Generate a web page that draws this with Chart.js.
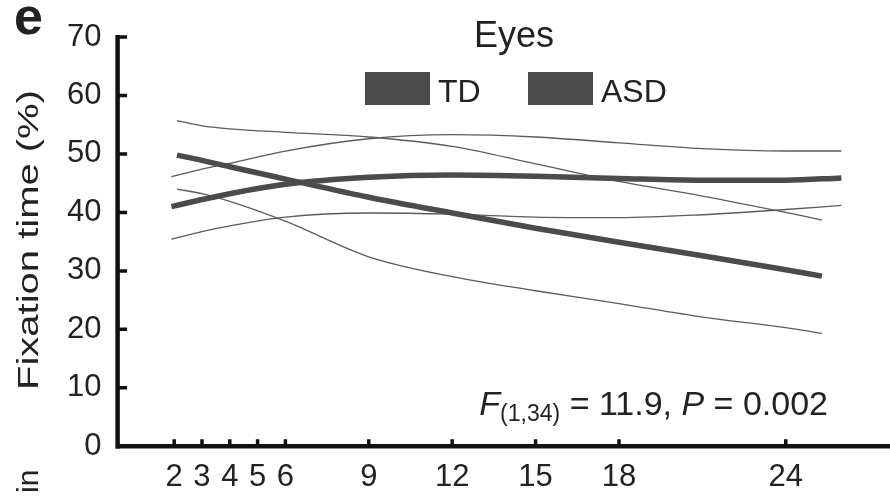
<!DOCTYPE html>
<html>
<head>
<meta charset="utf-8">
<script src="https://cdn.jsdelivr.net/npm/chart.js@4/dist/chart.umd.min.js"></script>
<style>
  html, body { margin: 0; padding: 0; background: #fff; }
  #wrap { width: 890px; height: 496px; }
</style>
</head>
<body>
<div id="wrap"><canvas id="eyesChart" width="890" height="496"></canvas></div>
<script>
// fixation on eyes by age (months), growth curves with 95% bands
const tdMonths  = [1.9, 3, 4, 6, 9, 12, 15, 18, 21, 24, 26];
const tdMean    = [41.0, 42.2, 43.2, 44.8, 46.0, 46.4, 46.2, 45.8, 45.5, 45.5, 45.9];
const tdUpper   = [46.1, 47.4, 48.4, 50.5, 52.6, 53.3, 52.9, 51.9, 50.9, 50.5, 50.5];
const tdLower   = [35.4, 36.7, 37.7, 39.2, 39.9, 39.7, 39.2, 39.1, 39.6, 40.5, 41.2];

const asdMonths = [2.1, 3, 4, 6, 9, 12, 15, 18, 21, 24, 25.3];
const asdMean   = [49.8, 48.9, 47.8, 45.7, 42.6, 39.9, 37.3, 34.9, 32.6, 30.2, 29.1];
const asdUpper  = [55.7, 54.8, 54.3, 53.7, 52.9, 51.3, 48.3, 45.3, 42.8, 40.0, 38.7];
const asdLower  = [44.0, 43.2, 41.9, 38.5, 32.4, 29.0, 26.6, 24.4, 22.1, 20.3, 19.3];

const monthTicks   = [2, 3, 4, 5, 6, 9, 12, 15, 18, 24];
const percentTicks = [0, 10, 20, 30, 40, 50, 60, 70];

const FONT = "'Liberation Sans', Arial, Helvetica, sans-serif";
const INK = '#222';
const LINE = '#4b4b4b';
const THIN = '#5c5c5c';

function pts(xs, ys) {
    return xs.map((x, i) => ({ x: x, y: ys[i] }));
}

function curve(label, xs, ys, thick) {
    return {
        label: label,
        data: pts(xs, ys),
        borderColor: thick ? LINE : THIN,
        backgroundColor: LINE,
        borderWidth: thick ? 5.5 : 1.3,
        pointRadius: 0,
        cubicInterpolationMode: 'monotone',
        fill: false,
        isMean: thick
    };
}

// axes with inward ticks, drawn from the scales
const axesPlugin = {
    id: 'axes',
    afterDatasetsDraw(chart) {
        const c = chart.ctx;
        const xs = chart.scales.x, ys = chart.scales.y;
        const x0 = xs.getPixelForValue(0);
        const y0 = ys.getPixelForValue(0);
        c.save();
        c.strokeStyle = '#111';
        c.lineCap = 'butt';
        c.lineWidth = 4.5;
        c.beginPath();
        c.moveTo(x0 - 1, ys.getPixelForValue(70) - 2);
        c.lineTo(x0 - 1, y0 + 2.5);
        c.moveTo(x0 - 3, y0);
        c.lineTo(chart.width, y0);
        c.stroke();
        c.lineWidth = 3.5;
        c.beginPath();
        percentTicks.forEach(v => {
            const p = ys.getPixelForValue(v);
            if (v === 0) return;
            c.moveTo(x0, p);
            c.lineTo(x0 + 8.5, p);
        });
        monthTicks.forEach(v => {
            const p = xs.getPixelForValue(v);
            c.moveTo(p, y0);
            c.lineTo(p, y0 - 7);
        });
        c.stroke();
        c.restore();
    }
};

// title, legend boxes, axis title and the statistic
const textPlugin = {
    id: 'texts',
    afterDraw(chart) {
        const c = chart.ctx;
        c.save();
        c.fillStyle = INK;
        c.textBaseline = 'alphabetic';

        c.font = 'bold 52px ' + FONT;
        c.fillText('e', 14, 34);

        c.font = '36px ' + FONT;
        c.textAlign = 'center';
        c.fillText('Eyes', 514, 47);

        // legend from the mean curves
        c.textAlign = 'left';
        c.font = '32px ' + FONT;
        const slots = [365, 528];
        chart.data.datasets.filter(d => d.isMean).forEach((d, i) => {
            const bx = slots[i];
            c.fillStyle = d.backgroundColor;
            c.fillRect(bx, 72, 65, 33);
            c.fillStyle = INK;
            c.fillText(d.label, bx + 73, 102);
        });

        // y axis title
        c.save();
        c.translate(38, 240);
        c.rotate(-Math.PI / 2);
        c.textAlign = 'center';
        c.font = '30px ' + FONT;
        const yt = 'Fixation time (%)';
        const w = c.measureText(yt).width;
        c.scale(300 / w, 1);
        c.fillText(yt, 0, 0);
        c.restore();

        // clipped label from the panel below
        c.save();
        c.translate(38, 493);
        c.rotate(-Math.PI / 2);
        c.font = '30px ' + FONT;
        c.fillText('in', 0, 0);
        c.restore();

        // F statistic, right edge at 828
        const base = 415;
        const parts = [
            ['italic 34px ' + FONT, 'F', 0],
            ['23px ' + FONT, '(1,34)', 6],
            ['34px ' + FONT, ' = 11.9, ', 0],
            ['italic 34px ' + FONT, 'P', 0],
            ['34px ' + FONT, ' = 0.002', 0]
        ];
        let total = 0;
        parts.forEach(p => { c.font = p[0]; total += c.measureText(p[1]).width; });
        let x = 828 - total;
        parts.forEach(p => {
            c.font = p[0];
            c.fillText(p[1], x, base + p[2]);
            x += c.measureText(p[1]).width;
        });
        c.restore();
    }
};

const ctx = document.getElementById('eyesChart').getContext('2d');
const chart = new Chart(ctx, {
    type: 'line',
    data: {
        datasets: [
            curve('TD', tdMonths, tdMean, true),
            curve('ASD', asdMonths, asdMean, true),
            curve('TD upper', tdMonths, tdUpper, false),
            curve('TD lower', tdMonths, tdLower, false),
            curve('ASD upper', asdMonths, asdUpper, false),
            curve('ASD lower', asdMonths, asdLower, false)
        ]
    },
    options: {
        responsive: false,
        animation: false,
        devicePixelRatio: 1,
        layout: { padding: { top: 37, right: 0, left: 0, bottom: 0 } },
        plugins: {
            legend: { display: false },
            title: { display: false },
            tooltip: { enabled: false }
        },
        scales: {
            x: {
                type: 'linear',
                min: 0,
                max: 27.75,
                grid: { display: false },
                border: { display: false },
                afterBuildTicks: s => { s.ticks = monthTicks.map(v => ({ value: v })); },
                afterFit: s => { s.height = 49.7; },
                ticks: {
                    color: INK,
                    padding: 5,
                    font: { family: FONT, size: 31 }
                }
            },
            y: {
                min: 0,
                max: 70,
                grid: { display: false },
                border: { display: false },
                afterBuildTicks: s => { s.ticks = percentTicks.map(v => ({ value: v })); },
                afterFit: s => { s.width = 118.6; },
                ticks: {
                    color: INK,
                    padding: 9,
                    font: { family: FONT, size: 31 }
                }
            }
        }
    },
    plugins: [axesPlugin, textPlugin]
});
</script>
</body>
</html>
